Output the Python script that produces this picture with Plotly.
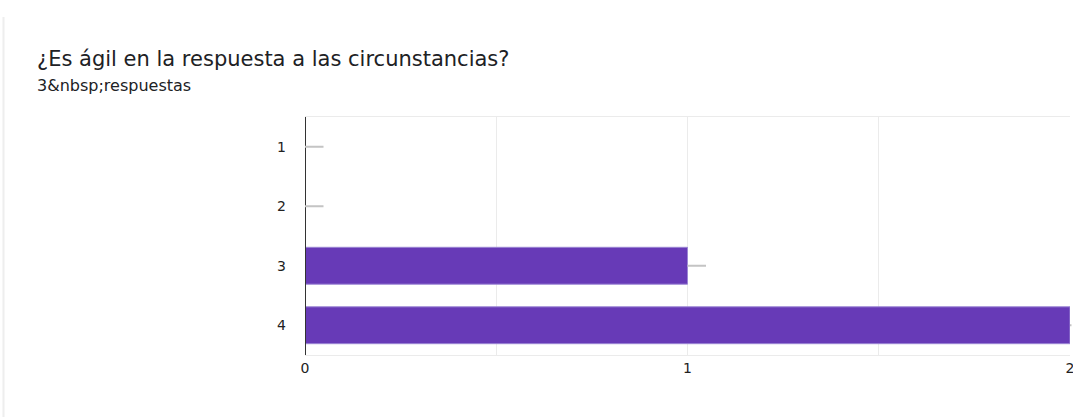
import plotly.graph_objects as go

# Survey responses: "¿Es ágil en la respuesta a las circunstancias?"
categories = ["1", "2", "3", "4"]
counts = [0, 0, 1, 2]
x_ticks = [0, 1, 2]
title_text = "¿Es ágil en la respuesta a las circunstancias?"
subtitle_text = "3&amp;nbsp;respuestas"

W, H = 1073, 417
ML, MR, MT, MB = 305, 3, 117, 62
plot_w = W - ML - MR
plot_h = H - MT - MB
FONT = "DejaVu Sans"

fig = go.Figure()
fig.add_trace(go.Bar(
    x=counts,
    y=list(range(len(categories))),
    orientation="h",
    marker=dict(color="#673AB7", line=dict(color="#9C86D4", width=1)),
    width=0.62,
    hovertext=categories,
    hoverinfo="x+text",
))

# short grey leader ticks at the end of each bar
for i, v in enumerate(counts):
    fig.add_annotation(
        x=v, y=i, xref="x", yref="y",
        text="", showarrow=True, arrowhead=0, arrowwidth=2,
        arrowcolor="#C4C4C4", ax=20, ay=0, axref="pixel", ayref="pixel",
        standoff=0, startstandoff=0,
    )

# card edge on the left
fig.add_shape(type="line", xref="paper", yref="paper",
              x0=(3.5 - ML) / plot_w, x1=(3.5 - ML) / plot_w,
              y0=(H - MB - 17) / plot_h, y1=-MB / plot_h,
              line=dict(color="#EEEEEE", width=2))

fig.add_annotation(
    text=title_text, xref="paper", yref="paper",
    x=(35 - ML) / plot_w, y=(H - MB - 45) / plot_h,
    xanchor="left", yanchor="top", showarrow=False,
    font=dict(family=FONT, size=21, color="#202124"),
)
fig.add_annotation(
    text=subtitle_text, xref="paper", yref="paper",
    x=(35 - ML) / plot_w, y=(H - MB - 74) / plot_h,
    xanchor="left", yanchor="top", showarrow=False,
    font=dict(family=FONT, size=16, color="#202124"),
)

fig.update_layout(
    width=W, height=H,
    margin=dict(l=ML, r=MR, t=MT, b=MB, autoexpand=False),
    paper_bgcolor="white", plot_bgcolor="white",
    showlegend=False,
    font=dict(family=FONT, size=14, color="#222222"),
    xaxis=dict(
        range=[0, 2], tickvals=x_ticks, ticktext=[str(t) for t in x_ticks],
        showgrid=True, gridcolor="#EBEBEB", gridwidth=1,
        minor=dict(dtick=0.5, showgrid=True, gridcolor="#EBEBEB"),
        zeroline=False, showline=True, linecolor="#EBEBEB", mirror=True,
        ticks="", ticklen=0, ticklabeloverflow="allow", automargin=False,
        tickfont=dict(family=FONT, size=14, color="#222222"),
    ),
    yaxis=dict(
        range=[len(categories) - 0.5, -0.5],
        tickvals=list(range(len(categories))), ticktext=categories,
        showgrid=False, zeroline=False, showline=False, automargin=False,
        ticks="", ticklabelstandoff=18,
        tickfont=dict(family=FONT, size=14, color="#222222"),
    ),
)

# dark baseline at zero
fig.add_shape(type="line", xref="x", yref="paper", x0=0, x1=0, y0=0, y1=1,
              line=dict(color="#333333", width=2))

fig.write_html("out.html")
